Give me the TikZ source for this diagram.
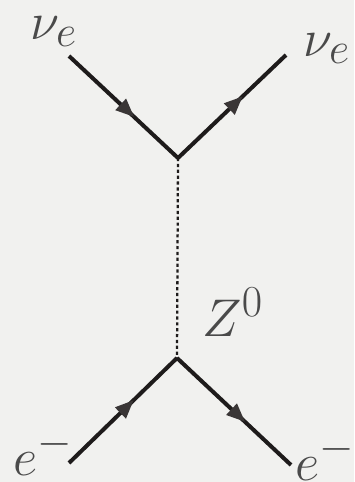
\documentclass[tikz,border=0pt]{standalone}
\usepackage{amsmath}
\usepackage{xcolor}
\usepackage{tikz}
\usetikzlibrary{arrows.meta,decorations.markings,positioning}
\definecolor{paper}{HTML}{F1F1EF}
\definecolor{ink}{HTML}{1E1B1B}
\definecolor{tip}{HTML}{3A3636}
\definecolor{lbl}{HTML}{4A4A4A}

\begin{document}
\begin{tikzpicture}[x=0.75pt,y=-0.75pt,
    fermion/.style={draw=ink, line width=3pt,
                postaction={decorate},
                decoration={markings,
                  mark=at position 0.6 with {\arrow[tip]{Triangle[length=14pt,width=11pt]}}}},
    boson/.style={draw=ink, line width=1.7pt, dash pattern=on 2.4pt off 2pt},
    lab/.style={text=lbl, inner sep=0pt, anchor=base west, font=\Huge,
                scale=1.6, transform shape},
]

\fill[paper] (0,0) rectangle (354,482);
\useasboundingbox (0,0) rectangle (354,482);

% vertices
\coordinate (vtop) at (178,158);
\coordinate (vbot) at (177,358);

% external legs
\coordinate (nuin) at (69,56);
\coordinate (nuout) at (286,55);
\coordinate (ein) at (69,463);
\coordinate (eout) at (291,465);

\draw[fermion] (nuin) -- (vtop);
\draw[fermion] (vtop) -- (nuout);
\draw[fermion] (ein) -- (vbot);
\draw[fermion] (vbot) -- (eout);
\draw[boson] (vtop) -- (vbot);

% labels
\node[lab] (nuinl) at (30,39) {$\nu_e$};
\node[lab] (nuoutl) at (303,56) {$\nu_e$};
\node[lab] (zl) at (202,336) {$Z^0$};
\node[lab] (einl) at (13,475) {$e^-$};
\node[lab] (eoutl) at (295,480) {$e^-$};

\end{tikzpicture}
\end{document}
